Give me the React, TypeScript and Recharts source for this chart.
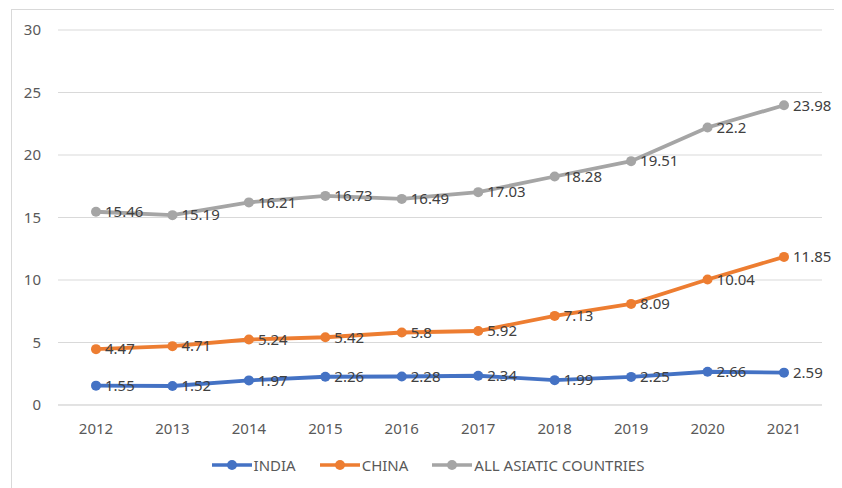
import React from "react";
import { LineChart, Line, XAxis, YAxis, CartesianGrid, Legend, LabelList } from "recharts";

const years = ["2012", "2013", "2014", "2015", "2016", "2017", "2018", "2019", "2020", "2021"];
const india = [1.55, 1.52, 1.97, 2.26, 2.28, 2.34, 1.99, 2.25, 2.66, 2.59];
const china = [4.47, 4.71, 5.24, 5.42, 5.8, 5.92, 7.13, 8.09, 10.04, 11.85];
const allAsia = [15.46, 15.19, 16.21, 16.73, 16.49, 17.03, 18.28, 19.51, 22.2, 23.98];
const yTicks = [0, 5, 10, 15, 20, 25, 30];

const series = [
  { key: "india", name: "INDIA", color: "#4472C4" },
  { key: "china", name: "CHINA", color: "#ED7D31" },
  { key: "all", name: "ALL ASIATIC COUNTRIES", color: "#A5A5A5" },
];

const data = years.map((y, i) => ({ year: y, india: india[i], china: china[i], all: allAsia[i] }));

const FONT = "'Noto Sans', sans-serif";
const TEXT = "#595959";

const LegendContent = () => (
  <div style={{ display: "flex", justifyContent: "center", alignItems: "center", fontFamily: FONT, fontSize: 15, color: TEXT, paddingLeft: 16 }}>
    {series.map((s) => (
      <div key={s.key} style={{ display: "flex", alignItems: "center", margin: "0 12px" }}>
        <svg width={40} height={12} style={{ marginRight: 2 }}>
          <line x1={0} y1={6} x2={40} y2={6} stroke={s.color} strokeWidth={3.5} />
          <circle cx={20} cy={6} r={5} fill={s.color} />
        </svg>
        <span>{s.name}</span>
      </div>
    ))}
  </div>
);

export default function App() {
  return (
    <div style={{ position: "relative", width: 834, height: 480 }}>
      <div style={{ position: "absolute", left: 3, top: 1, width: 840, height: 490, border: "1px solid #d9d9d9", boxSizing: "border-box" }} />
      <LineChart width={834} height={480} data={data} margin={{ top: 22, right: 20, left: 10, bottom: 7 }}>
        <CartesianGrid vertical={false} stroke="#d9d9d9" strokeWidth={1} />
        <XAxis
          dataKey="year"
          axisLine={{ stroke: "#d9d9d9" }}
          tickLine={false}
          tick={{ fill: TEXT, fontSize: 15, fontFamily: FONT }}
          tickMargin={12}
          height={36}
          padding={{ left: 38, right: 38 }}
        />
        <YAxis
          domain={[0, 30]}
          ticks={yTicks}
          axisLine={false}
          tickLine={false}
          tick={{ fill: TEXT, fontSize: 15, fontFamily: FONT }}
          width={40}
          tickMargin={11}
        />
        <Legend verticalAlign="bottom" height={40} content={<LegendContent />} wrapperStyle={{ top: 447, bottom: "auto" }} />
        {series.map((s) => (
          <Line
            key={s.key}
            dataKey={s.key}
            name={s.name}
            stroke={s.color}
            strokeWidth={3.8}
            dot={{ r: 5, fill: s.color, stroke: s.color, strokeWidth: 0 }}
            activeDot={false}
            isAnimationActive={false}
          >
            <LabelList
              dataKey={s.key}
              position="right"
              offset={9}
              fill="#404040"
              fontSize={15}
              fontFamily={FONT}
            />
          </Line>
        ))}
      </LineChart>
    </div>
  );
}
